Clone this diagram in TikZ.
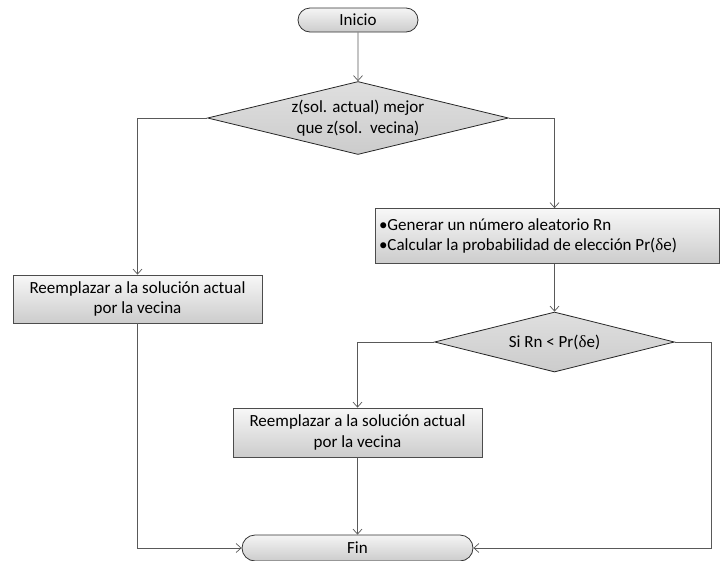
\documentclass[tikz,border=0pt]{standalone}
\usepackage{fontspec}
\setmainfont{Carlito}
\newfontfamily\griega{Liberation Serif}
\usetikzlibrary{shapes.geometric, shapes.misc, arrows.meta}

\begin{document}
\begin{tikzpicture}[x=1pt,y=-1pt,
    font=\fontsize{17}{20.5}\selectfont,
    proceso/.style={rectangle,draw=black!70,line width=0.8pt,top color=gray!6,bottom color=gray!40,
        inner sep=0pt,align=center},
    terminal/.style={rounded rectangle,draw=black!80,line width=0.8pt,top color=gray!8,bottom color=gray!40,
        inner sep=0pt},
    decision/.style={diamond,draw=black!85,line width=0.8pt,top color=gray!25,bottom color=gray!40,
        inner sep=0pt},
    texto/.style={align=center,inner sep=0pt},
    flecha/.style={draw=black!65,line width=0.7pt,-{Straight Barb[length=5pt,width=9pt]}}]
\useasboundingbox (0,0) rectangle (720,560);

% nodos
\node[terminal,minimum width=120pt,minimum height=24pt] (inicio) at (358,20) {Inicio};
\node[decision,minimum width=301pt,minimum height=73pt] (dec1) at (358,118) {};
\node[texto] at (dec1) {z(sol. actual) mejor\\que z(sol.~\ vecina)};
\node[proceso,minimum width=249pt,minimum height=48pt] (reemp1) at (137.5,299)
    {Reemplazar a la solución actual\\por la vecina};
\node[proceso,minimum width=344pt,minimum height=55pt,align=flush left,text width=336pt] (generar) at (547,236)
    {•Generar un número aleatorio Rn\\•Calcular la probabilidad de elección Pr({\griega δ}e)};
\node[decision,minimum width=240pt,minimum height=60pt] (dec2) at (554.5,342) {};
\node[texto] at (dec2) {Si Rn < Pr({\griega δ}e)};
\node[proceso,minimum width=249pt,minimum height=49pt] (reemp2) at (357.5,432.5)
    {Reemplazar a la solución actual\\por la vecina};
\node[terminal,minimum width=231pt,minimum height=26pt] (fin) at (357.5,548) {Fin};

% conectores
\draw[flecha] (inicio) -- (dec1);
\draw[flecha] (dec1.west) -| (reemp1.north);
\draw[flecha] (dec1.east) -| (dec2.north |- generar.north);
\draw[flecha] (dec2.north |- generar.south) -- (dec2.north);
\draw[flecha] (dec2.west) -| (reemp2.north);
\draw[flecha] (reemp2) -- (fin);
\draw[flecha] (reemp1.south) |- (fin.west);
\draw[flecha] (dec2.east) -- ++(36,0) |- (fin.east);
\end{tikzpicture}
\end{document}
